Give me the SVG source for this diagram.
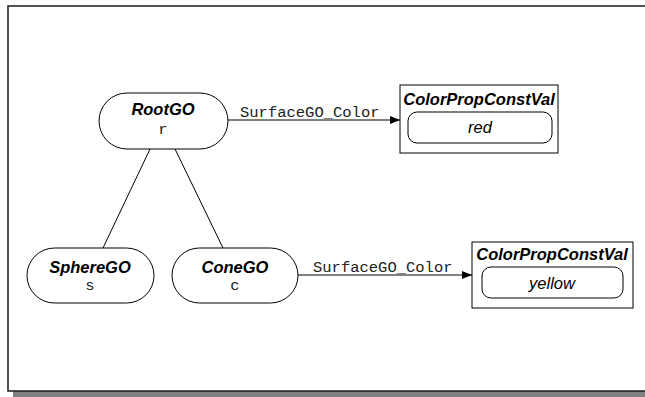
<svg xmlns="http://www.w3.org/2000/svg" width="645" height="397" viewBox="0 0 645 397">
<style>
.node{fill:#fff;stroke:#000;stroke-width:1}
.frame{fill:#fff;stroke:#1a1a1a;stroke-width:1.5}
.name{font-family:"Liberation Sans",Arial,sans-serif;font-weight:bold;font-style:italic;font-size:16.5px;text-anchor:middle}
.val{font-family:"Liberation Sans",Arial,sans-serif;font-style:italic;font-size:16.5px;text-anchor:middle}
.mono{font-family:"Liberation Mono","Courier New",monospace;font-size:15.5px;text-anchor:middle;fill:#222}
.lbl{font-family:"Liberation Mono","Courier New",monospace;font-size:15.5px;fill:#222}
.edge{stroke:#000;stroke-width:1;fill:none}
</style>
<defs>
<marker id="arr" markerWidth="10" markerHeight="8" refX="10" refY="4" orient="auto" markerUnits="userSpaceOnUse">
<path d="M0,0 L10,4 L0,8 Z" fill="#000"/>
</marker>
</defs>
<rect x="13" y="12" width="640" height="385" fill="#808080"/>
<rect x="8" y="6" width="645" height="385" class="frame"/>
<g id="connectors">
<line x1="150" y1="149" x2="103" y2="248" class="edge"/>
<line x1="175" y1="149" x2="223" y2="248" class="edge"/>
<line x1="228" y1="120" x2="400" y2="120" class="edge" marker-end="url(#arr)"/>
<text x="240" y="117" class="lbl">SurfaceGO_Color</text>
<line x1="298" y1="275" x2="472" y2="275" class="edge" marker-end="url(#arr)"/>
<text x="313" y="272" class="lbl">SurfaceGO_Color</text>
</g>
<g id="RootGO">
<rect x="99" y="93" width="129" height="56" rx="28" ry="28" class="node"/>
<text x="163" y="115" class="name">RootGO</text>
<text x="163" y="134" class="mono">r</text>
</g>
<g id="SphereGO">
<rect x="27" y="248" width="127" height="55" rx="27.5" ry="27.5" class="node"/>
<text x="90" y="273" class="name">SphereGO</text>
<text x="90" y="290" class="mono">s</text>
</g>
<g id="ConeGO">
<rect x="172" y="248" width="126" height="55" rx="27.5" ry="27.5" class="node"/>
<text x="235" y="273" class="name">ConeGO</text>
<text x="235" y="290" class="mono">c</text>
</g>
<g id="ColorPropConstVal1">
<rect x="400" y="85" width="158" height="68" class="node" stroke-width="1.2"/>
<text x="479" y="105" class="name">ColorPropConstVal</text>
<rect x="408" y="112" width="144" height="31" rx="9" ry="9" class="node"/>
<text x="480" y="133" class="val">red</text>
</g>
<g id="ColorPropConstVal2">
<rect x="472" y="242" width="161" height="66" class="node" stroke-width="1.2"/>
<text x="552" y="260" class="name">ColorPropConstVal</text>
<rect x="482" y="267" width="141" height="31" rx="9" ry="9" class="node"/>
<text x="552" y="289" class="val">yellow</text>
</g>
</svg>
